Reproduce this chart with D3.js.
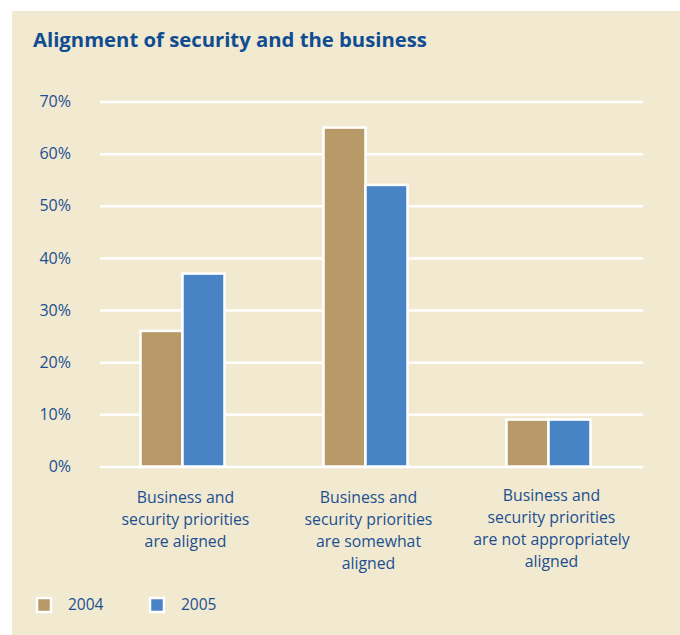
<!DOCTYPE html>
<html><head><meta charset="utf-8">
<script src="https://cdn.jsdelivr.net/npm/d3@7"></script>
<style>
html,body{margin:0;padding:0;background:#fff;}
svg{display:block;}
text{font-family:"Open Sans","Noto Sans",sans-serif;}
</style></head>
<body>
<svg id="chart" width="680" height="635"></svg>
<script>
const title = "Alignment of security and the business";
const categories = [
  ["Business and","security priorities","are aligned"],
  ["Business and","security priorities","are somewhat","aligned"],
  ["Business and","security priorities","are not appropriately","aligned"]
];
const categoryKeys = ["aligned","somewhat","not"];
const seriesNames = ["2004","2005"];
const values2004 = [26, 65, 9];
const values2005 = [37, 54, 9];
const tickValues = [0,10,20,30,40,50,60,70];
const colors = ["#b89968","#4883c6"];

const svg = d3.select("#chart");
const textColor = "#1c4f91";

svg.append("rect").attr("x",12).attr("y",11).attr("width",668).attr("height",624).attr("fill","#f1e9d0");

svg.append("text").attr("x",33).attr("y",47).attr("fill","#0f4c92")
  .attr("font-size",20.3).attr("font-weight",700)
  .text(title);

const y = d3.scaleLinear().domain([0,70]).range([466.5,101.5]);
const x0 = d3.scaleBand().domain(categoryKeys).range([49,682]).paddingInner(0.541).paddingOuter(0.5);
const x1 = d3.scaleBand().domain(seriesNames).range([0,x0.bandwidth()]);

// grid
const yAxis = d3.axisLeft(y).tickValues(tickValues).tickSize(543).tickFormat(d=>d+"%");
const gy = svg.append("g").attr("transform","translate(643,0)").call(yAxis);
gy.select(".domain").remove();
gy.selectAll(".tick line").attr("stroke","#ffffff").attr("stroke-width",2.5);
gy.selectAll(".tick text").attr("x",-543-29).attr("fill",textColor).attr("font-size",16)
  .attr("font-family","'Open Sans',sans-serif").attr("dy","0.32em");

const data = categoryKeys.map((k,i)=>({key:k, vals:[values2004[i], values2005[i]]}));
const groups = svg.append("g").selectAll("g").data(data).join("g")
  .attr("transform",d=>`translate(${x0(d.key)},0)`);
groups.selectAll("rect").data(d=>d.vals.map((v,j)=>({s:seriesNames[j],v,j}))).join("rect")
  .attr("x",d=>x1(d.s)).attr("width",x1.bandwidth())
  .attr("y",d=>y(d.v)).attr("height",d=>y(0)-y(d.v))
  .attr("fill",d=>colors[d.j]).attr("stroke","#ffffff").attr("stroke-width",2.5);

// category labels
categories.forEach((lines,i)=>{
  const cx = x0(categoryKeys[i]) + x0.bandwidth()/2 + 3;
  const t = svg.append("text").attr("text-anchor","middle").attr("fill",textColor).attr("font-size",15.8);
  const startY = lines.length===4 && i===2 ? 501 : 503;
  lines.forEach((l,j)=>{
    t.append("tspan").attr("x",cx).attr("y",startY + j*22).text(l);
  });
});

// legend
const leg = svg.append("g");
seriesNames.forEach((s,i)=>{
  const lx = 37 + i*113;
  leg.append("rect").attr("x",lx).attr("y",598).attr("width",14).attr("height",14)
    .attr("fill",colors[i]).attr("stroke","#fff").attr("stroke-width",2.5);
  leg.append("text").attr("x",lx+31).attr("y",605).attr("dy","0.35em").attr("fill",textColor)
    .attr("font-size",15.5).text(s);
});
</script>
</body></html>
